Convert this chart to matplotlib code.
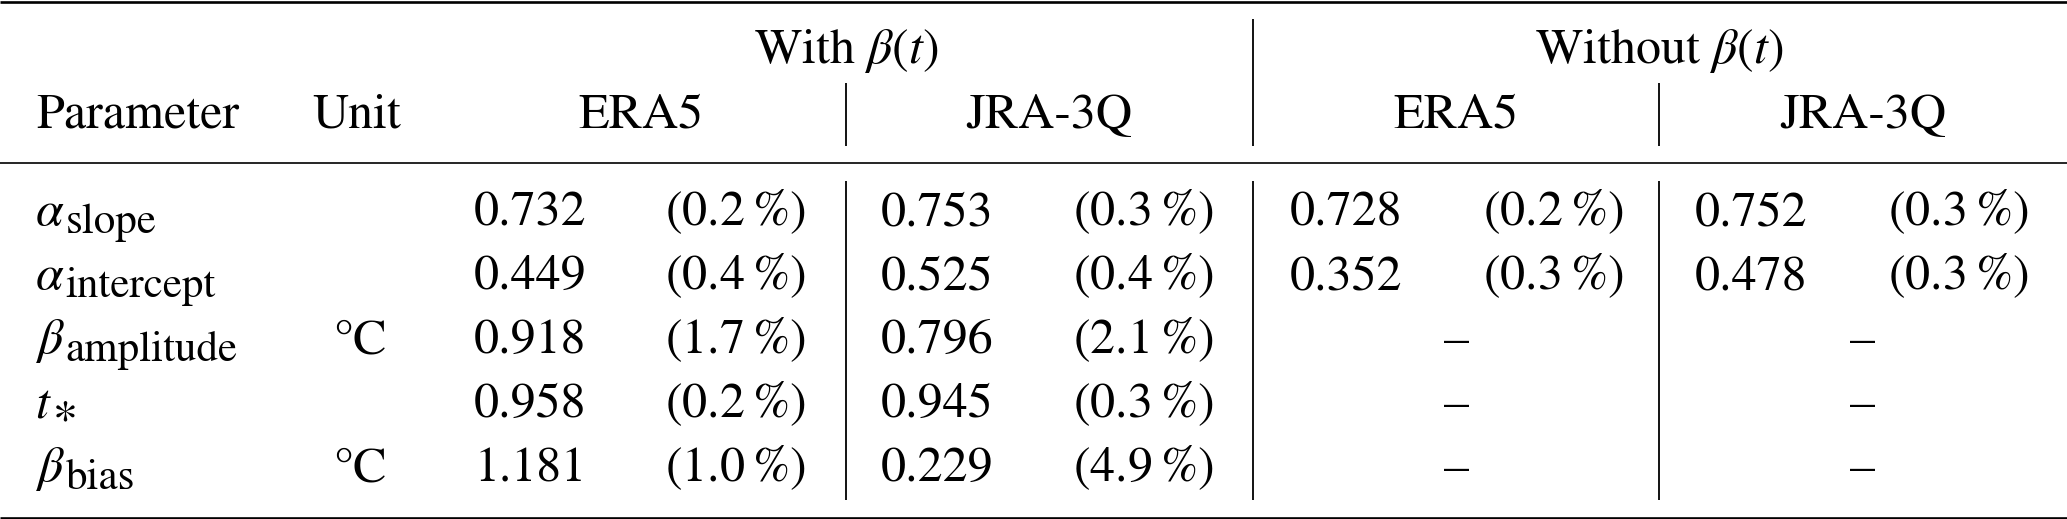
import matplotlib
matplotlib.use("Agg")
import matplotlib.pyplot as plt

# ---------------- data ----------------
param_symbols = [r'$\alpha$', r'$\alpha$', r'$\beta$', r'$t$', r'$\beta$']
param_subscripts = ['slope', 'intercept', 'amplitude', '\u2217', 'bias']
units = ['', '', '°C', '', '°C']

with_era5 = [0.732, 0.449, 0.918, 0.958, 1.181]
with_era5_pct = [0.2, 0.4, 1.7, 0.2, 1.0]
with_jra = [0.753, 0.525, 0.796, 0.945, 0.229]
with_jra_pct = [0.3, 0.4, 2.1, 0.3, 4.9]
without_era5 = [0.728, 0.352, None, None, None]
without_era5_pct = [0.2, 0.3, None, None, None]
without_jra = [0.752, 0.478, None, None, None]
without_jra_pct = [0.3, 0.3, None, None, None]

group_labels = [r'With $\beta(t)$', r'Without $\beta(t)$']
dataset_labels = ['ERA5', 'JRA-3Q', 'ERA5', 'JRA-3Q']
col_headers = ['Parameter', 'Unit']

# ---------------- style / layout ----------------
plt.rcParams['mathtext.fontset'] = 'stix'
plt.rcParams['font.family'] = ['STIXGeneral', 'DejaVu Serif']
FS = 36
FS_SUB = 31

W, H = 2067, 519
fig = plt.figure(figsize=(W / 100, H / 100), dpi=100)
ax = fig.add_axes([0, 0, 1, 1])
ax.set_xlim(0, W)
ax.set_ylim(H, 0)
ax.axis('off')

# rules
ax.hlines(1.5, 0, W, color='black', lw=1.9)
ax.hlines(163, 0, W, color='black', lw=1.2)
ax.hlines(517.5, 0, W, color='black', lw=1.9)

# vertical separators
vx_inner = [846, 1659]
vx_group = 1253
ax.vlines(vx_inner, 83, 146, color='black', lw=1.3)
ax.vlines(vx_group, 19, 146, color='black', lw=1.3)
ax.vlines(vx_inner + [vx_group], 181, 500, color='black', lw=1.3)

# headers
y_h1, y_h2 = 63, 128
ax.text(846, y_h1, group_labels[0], fontsize=FS, ha='center', va='baseline')
ax.text(1659, y_h1, group_labels[1], fontsize=FS, ha='center', va='baseline')
ax.text(36, y_h2, col_headers[0], fontsize=FS, ha='left', va='baseline')
ax.text(357, y_h2, col_headers[1], fontsize=FS, ha='center', va='baseline')
ds_centers = [641, 1049, 1456, 1863]
for cx, lab in zip(ds_centers, dataset_labels):
    ax.text(cx, y_h2, lab, fontsize=FS, ha='center', va='baseline')

# body
row_y = [225, 289, 353, 417, 481]
val_x = [474, 881, 1290, 1695]
pct_x = [806, 1214, 1624, 2029]
dash_x = [1456, 1863]

series = [(with_era5, with_era5_pct), (with_jra, with_jra_pct),
          (without_era5, without_era5_pct), (without_jra, without_jra_pct)]

fig.canvas.draw()
renderer = fig.canvas.get_renderer()

for i, y in enumerate(row_y):
    base = ax.text(35, y, param_symbols[i], fontsize=FS, ha='left', va='baseline')
    bb = base.get_window_extent(renderer=renderer)
    is_star = param_subscripts[i] == '\u2217'
    sub_dy = 5 if is_star else 8
    ax.text(bb.x1 + 1, y + sub_dy, param_subscripts[i],
            fontsize=(34 if is_star else FS_SUB), ha='left', va='baseline')
    if units[i]:
        ax.text(360, y, units[i], fontsize=FS, ha='center', va='baseline')
    for j, (vals, pcts) in enumerate(series):
        v, p = vals[i], pcts[i]
        if v is None:
            ax.text(dash_x[j - 2], y, '\u2013', fontsize=FS, ha='center', va='baseline')
        else:
            ax.text(val_x[j], y, f'{v:.3f}', fontsize=FS, ha='left', va='baseline')
            ax.text(pct_x[j], y, f'({p:.1f}$\\:$%)', fontsize=FS, ha='right', va='baseline')

fig.savefig('out.png', dpi=100)
